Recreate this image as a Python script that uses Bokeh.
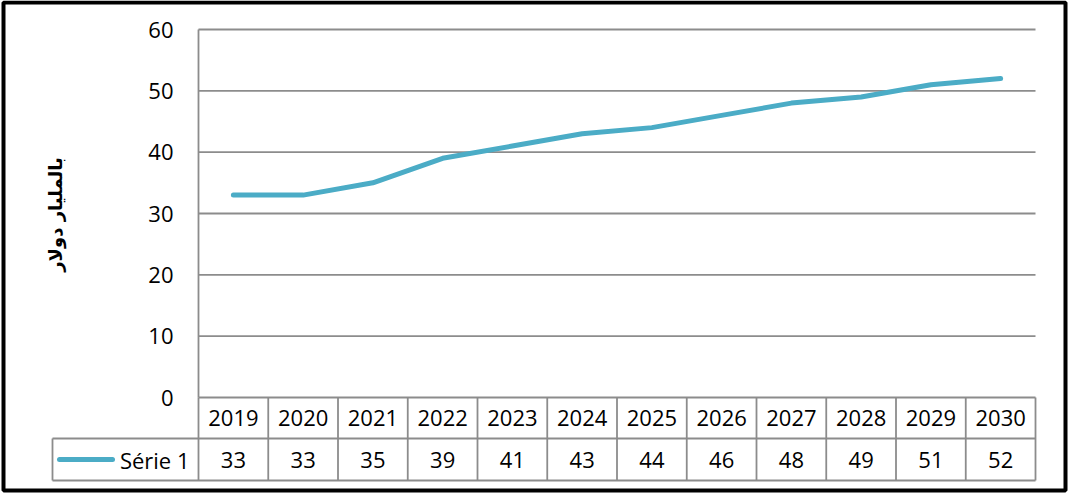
import math
from bokeh.plotting import figure
from bokeh.embed import file_html
from bokeh.resources import INLINE
from bokeh.core.properties import value

# ---- data ----
years = ["2019", "2020", "2021", "2022", "2023", "2024", "2025", "2026", "2027", "2028", "2029", "2030"]
serie1 = [33, 33, 35, 39, 41, 43, 44, 46, 48, 49, 51, 52]
series_name = "Série 1"
y_ticks = [0, 10, 20, 30, 40, 50, 60]
y_title = "بالمليار دولار"

# ---- layout (pixels) ----
W, H = 1069, 493
PL, PR = 198.0, 1035.0      # plot area left/right
PT, PB = 29.0, 397.0        # plot area top (y=60) / bottom (y=0)
ROW1_B, ROW2_B = 438.0, 480.0
LEG_L = 52.0
n = len(years)
xs = (PR - PL) / n
ymax = y_ticks[-1]
ys = (PB - PT) / ymax

def X(px):
    return (px - PL) / xs

def Y(py):
    return (PB - py) / ys

LINE_COLOR = "#4BACC6"
GRID = "#8c8c8c"
FONT = "Open Sans"
FS = "22px"

p = figure(width=W, height=H, x_range=(X(0), X(W)), y_range=(Y(H), Y(0)),
           x_axis_type=None, y_axis_type=None, toolbar_location=None,
           output_backend="svg", min_border=0, min_border_left=0, min_border_right=0,
           min_border_top=0, min_border_bottom=0)
p.outline_line_color = None
p.background_fill_color = "white"
p.border_fill_color = "white"
p.grid.visible = False

# gridlines (plot area)
gl = [t for t in y_ticks if t > 0]
p.segment(x0=[0] * len(gl), y0=gl, x1=[n] * len(gl), y1=gl, line_color=GRID, line_width=1.8)
# left plot-area edge
p.segment(x0=[0], y0=[0], x1=[0], y1=[ymax], line_color=GRID, line_width=1.8)

# y tick labels
p.text(x=[X(173)] * len(y_ticks), y=y_ticks, text=[str(t) for t in y_ticks],
       text_align="right", text_baseline="middle", text_font=value(FONT),
       text_font_size=FS, text_color="black")

# y title
p.text(x=[X(55)], y=[Y(214)], text=[y_title], angle=math.pi / 2,
       text_align="center", text_baseline="middle", text_font=value("DejaVu Sans"),
       text_font_style="bold", text_font_size="18px", text_color="black")

# data table grid
r1, r2 = Y(ROW1_B), Y(ROW2_B)
hx0 = [0, X(LEG_L), X(LEG_L)]
hy = [0, r1, r2]
p.segment(x0=hx0, y0=hy, x1=[n] * 3, y1=hy, line_color=GRID, line_width=1.8)
vx = list(range(n + 1))
p.segment(x0=vx, y0=[0] * len(vx), x1=vx, y1=[r2] * len(vx), line_color=GRID, line_width=1.8)
p.segment(x0=[X(LEG_L)], y0=[r1], x1=[X(LEG_L)], y1=[r2], line_color=GRID, line_width=1.8)

cx = [i + 0.5 for i in range(n)]
p.text(x=cx, y=[(0 + r1) / 2] * n, text=years, text_align="center", text_baseline="middle",
       text_font=value(FONT), text_font_size=FS, text_color="black")
p.text(x=cx, y=[(r1 + r2) / 2] * n, text=[str(v) for v in serie1], text_align="center",
       text_baseline="middle", text_font=value(FONT), text_font_size=FS, text_color="black")

# legend key in table
p.line(x=[X(59), X(112)], y=[(r1 + r2) / 2] * 2, line_color=LINE_COLOR, line_width=5,
       line_cap="round")
p.text(x=[X(189)], y=[(r1 + r2) / 2], text=[series_name], text_align="right",
       text_baseline="middle", text_font=value(FONT), text_font_size=FS, text_color="black")

# series line
p.line(x=cx, y=serie1, line_color=LINE_COLOR, line_width=5, line_cap="round",
       line_join="round")

# outer border
p.quad(left=[X(3)], right=[X(1065)], top=[Y(2)], bottom=[Y(490)], fill_color=None,
       line_color="black", line_width=4)

open("out.html", "w").write(file_html(p, INLINE))
